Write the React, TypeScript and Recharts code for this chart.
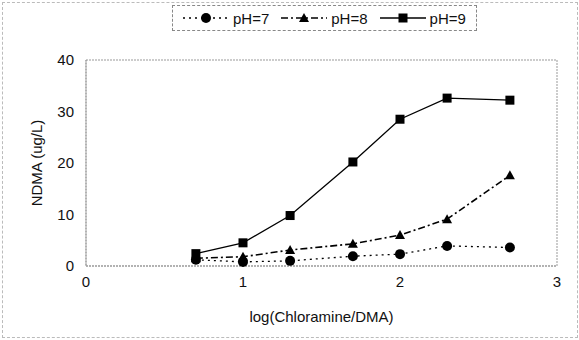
import type { FC } from 'react'
import { LineChart, Line, XAxis, YAxis, ReferenceArea } from 'recharts'

const logRatio = [0.7, 1.0, 1.3, 1.7, 2.0, 2.3, 2.7]
const ph7 = [1.2, 0.8, 1.0, 1.9, 2.3, 3.9, 3.6]
const ph8 = [1.5, 1.8, 3.1, 4.3, 6.0, 9.1, 17.6]
const ph9 = [2.4, 4.5, 9.8, 20.2, 28.5, 32.6, 32.2]
const xTicks = [0, 1, 2, 3]
const yTicks = [0, 10, 20, 30, 40]

const data = logRatio.map((x, i) => ({ x, ph7: ph7[i], ph8: ph8[i], ph9: ph9[i] }))

const FONT = '"Liberation Sans", Arial, sans-serif'

type DotProps = { cx?: number; cy?: number; index?: number }

const CircleDot: FC<DotProps> = ({ cx = 0, cy = 0 }) => <circle cx={cx} cy={cy} r={5} fill="#000" />
const TriangleDot: FC<DotProps> = ({ cx = 0, cy = 0 }) => (
  <polygon points={`${cx},${cy - 5} ${cx - 5},${cy + 4} ${cx + 5},${cy + 4}`} fill="#000" />
)
const SquareDot: FC<DotProps> = ({ cx = 0, cy = 0 }) => <rect x={cx - 4.5} y={cy - 4.5} width={9} height={9} fill="#000" />

const legendItems = [
  { label: 'pH=7', dash: '2 4', marker: 'circle' },
  { label: 'pH=8', dash: '7 3 2 3', marker: 'triangle' },
  { label: 'pH=9', dash: undefined, marker: 'square' },
]

const LegendBox: FC = () => (
  <div
    style={{
      position: 'absolute',
      left: 172,
      top: 5,
      border: '1px dashed #888',
      display: 'flex',
      alignItems: 'center',
      padding: '2px 0 2px 8px',
      fontFamily: FONT,
      fontSize: 15,
      color: '#111',
    }}>
    {legendItems.map((it) => (
      <div key={it.label} style={{ display: 'flex', alignItems: 'center', marginRight: 10 }}>
        <svg width={50} height={20}>
          <line x1={2} x2={48} y1={10} y2={10} stroke="#000" strokeWidth={1.3} strokeDasharray={it.dash} />
          {it.marker === 'circle' && <circle cx={25} cy={10} r={5} fill="#000" />}
          {it.marker === 'triangle' && <polygon points="25,5 20,14 30,14" fill="#000" />}
          {it.marker === 'square' && <rect x={20.5} y={5.5} width={9} height={9} fill="#000" />}
        </svg>
        <span style={{ marginLeft: 2 }}>{it.label}</span>
      </div>
    ))}
  </div>
)

const tickStyle = { fontFamily: FONT, fontSize: 15, fill: '#111' }

const App: FC = () => (
  <div style={{ position: 'absolute', left: 0, top: 0, width: 579, height: 340, background: '#fff' }}>
    <div style={{ position: 'absolute', left: 2, top: 2, width: 574, height: 334, border: '1px dashed #bbb' }} />
    <LineChart width={579} height={340} data={data} margin={{ top: 60, right: 22, bottom: 44, left: 26 }}>
      <XAxis
        type="number"
        dataKey="x"
        domain={[0, 3]}
        ticks={xTicks}
        height={30}
        tickLine={false}
        axisLine={{ stroke: '#999', strokeDasharray: '2 1' }}
        tick={tickStyle}
        tickMargin={4}
        label={{ value: 'log(Chloramine/DMA)', position: 'bottom', offset: 15, style: tickStyle }}
      />
      <YAxis
        type="number"
        domain={[0, 40]}
        ticks={yTicks}
        width={60}
        tickLine={false}
        axisLine={{ stroke: '#999', strokeDasharray: '2 1' }}
        tick={tickStyle}
        tickMargin={6}
        label={{ value: 'NDMA (ug/L)', angle: -90, position: 'insideLeft', offset: 11, style: { ...tickStyle, textAnchor: 'middle' } }}
      />
      <ReferenceArea x1={0} x2={3} y1={0} y2={40} fill="none" stroke="#999" strokeDasharray="2 1" />
      <Line dataKey="ph7" stroke="#000" strokeWidth={1.3} strokeDasharray="2 4" dot={<CircleDot />} isAnimationActive={false} />
      <Line dataKey="ph8" stroke="#000" strokeWidth={1.6} strokeDasharray="7 3 2 3" dot={<TriangleDot />} isAnimationActive={false} />
      <Line dataKey="ph9" stroke="#000" strokeWidth={1.3} dot={<SquareDot />} isAnimationActive={false} />
    </LineChart>
    <LegendBox />
  </div>
)

export default App
